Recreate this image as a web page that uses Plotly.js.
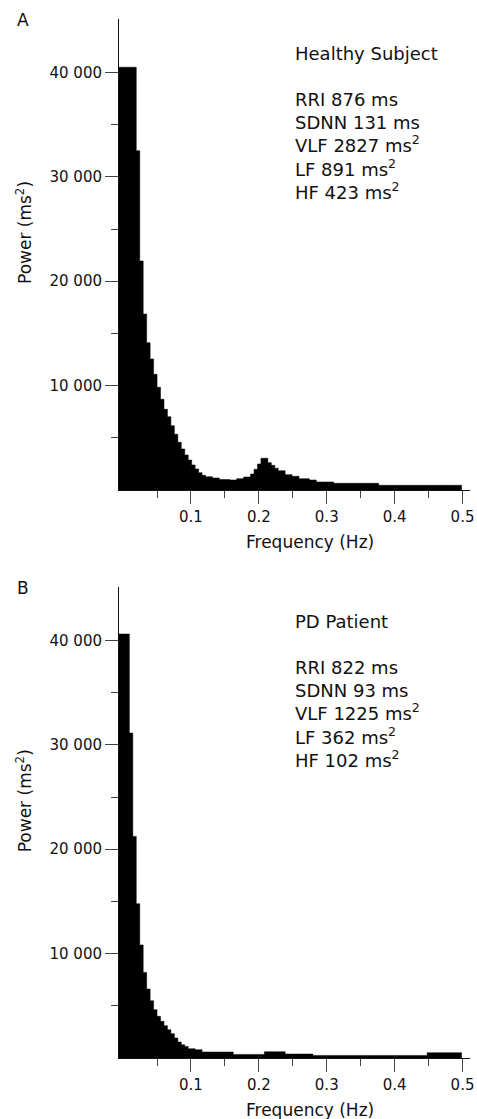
<!DOCTYPE html>
<html>
<head>
<meta charset="utf-8">
<script src="https://cdn.plot.ly/plotly-3.0.1.min.js"></script>
<style>html,body{margin:0;padding:0;background:#fff;}#chart{width:477px;height:1119px;}</style>
</head>
<body>
<div id="chart"></div>
<script>
// Frequency bin centres (Hz), bin width 0.0051 Hz
const freqHz = [-0.0035,0.0016,0.0067,0.0118,0.0169,0.0220,0.0271,0.0322,0.0373,0.0424,
0.0475,0.0526,0.0577,0.0628,0.0679,0.0730,0.0781,0.0832,0.0883,0.0934,
0.0985,0.1036,0.1087,0.1138,0.1189,0.1240,0.1291,0.1342,0.1393,0.1444,
0.1495,0.1546,0.1597,0.1648,0.1699,0.1750,0.1801,0.1852,0.1903,0.1954,
0.2005,0.2056,0.2107,0.2158,0.2209,0.2260,0.2311,0.2362,0.2413,0.2464,
0.2515,0.2566,0.2617,0.2668,0.2719,0.2770,0.2821,0.2872,0.2923,0.2974,
0.3025,0.3076,0.3127,0.3178,0.3229,0.3280,0.3331,0.3382,0.3433,0.3484,
0.3535,0.3586,0.3637,0.3688,0.3739,0.3790,0.3841,0.3892,0.3943,0.3994,
0.4045,0.4096,0.4147,0.4198,0.4249,0.4300,0.4351,0.4402,0.4453,0.4504,
0.4555,0.4606,0.4657,0.4708,0.4759,0.4810,0.4861,0.4912,0.4963];
const binWidthHz = 0.0051;

// Panel A: healthy subject power (ms^2)
const powerA = [40500,40500,40500,40500,40500,32500,21940,16860,14110,12550,
11080,9840,8690,7730,7020,6160,5340,4570,3930,3350,
2870,2400,2010,1660,1410,1270,1270,1150,1150,1000,
1000,1000,960,960,1085,1085,1245,1245,1530,1980,
2490,3040,3040,2620,2360,2080,1850,1850,1470,1470,
1310,1310,1085,1085,1085,960,960,770,770,770,
770,770,640,640,640,640,640,640,640,640,
640,640,640,640,640,450,450,450,450,450,
450,450,450,450,450,450,450,450,450,450,
450,450,450,450,450,450,450,450,450];

// Panel B: PD patient power (ms^2)
const powerB = [40620,40620,40620,31130,21230,14780,10830,8200,6610,5490,
4630,3990,3510,3100,2710,2330,1915,1530,1270,1110,
890,890,795,795,575,575,575,575,575,575,
575,575,575,345,345,345,345,345,345,345,
345,345,600,600,600,600,600,600,380,380,
380,380,380,380,380,380,250,250,250,250,
250,250,250,250,250,250,250,250,250,250,
250,250,250,250,250,250,250,250,250,250,
250,250,250,250,250,250,250,250,250,505,
505,505,505,505,505,505,505,505,505];

const panelLetters = ['A','B'];
const subjectLabels = ['Healthy Subject','PD Patient'];
const statsA = ['RRI 876 ms','SDNN 131 ms','VLF 2827 ms<sup>2</sup>','LF 891 ms<sup>2</sup>','HF 423 ms<sup>2</sup>'];
const statsB = ['RRI 822 ms','SDNN 93 ms','VLF 1225 ms<sup>2</sup>','LF 362 ms<sup>2</sup>','HF 102 ms<sup>2</sup>'];
const xTickVals = [0.1,0.2,0.3,0.4,0.5];
const xTickText = ['0.1','0.2','0.3','0.4','0.5'];
const xMinorVals = [0.05,0.15,0.25,0.35,0.45];
const yTickVals = [10000,20000,30000,40000];
const yTickText = ['10 000','20 000','30 000','40 000'];
const yMinorVals = [5000,15000,25000,35000];
const xTitle = 'Frequency (Hz)';
const yTitle = 'Power (ms<sup>2</sup>)';

// step outline built from bins
function stepTrace(vals, xa, ya){
  const xs = [], ys = [];
  for (let i = 0; i < freqHz.length; i++){ xs.push(freqHz[i] - binWidthHz/2); ys.push(vals[i]); }
  xs.push(freqHz[freqHz.length-1] + binWidthHz/2); ys.push(vals[vals.length-1]);
  return {x: xs, y: ys, type:'scatter', mode:'lines', line:{shape:'hv', color:'#000', width:0.5},
          fill:'tozeroy', fillcolor:'#000', xaxis:xa, yaxis:ya, hoverinfo:'skip', showlegend:false};
}

const W = 477, H = 1119, ML = 119, MR = 7, MT = 19, MB = 61;
const PW = W - ML - MR, PH = H - MT - MB;
const px = v => (v - ML) / PW;
const py = v => (H - MB - v) / PH;

const FONT = 'DejaVu Sans';
const XMIN = -0.006, XMAX = 0.511, YMAX = 45120;
const TICKC = '#444';

function xAxis(anchor){
  return {anchor: anchor, range:[XMIN, XMAX], showline:true, linecolor:'#111', linewidth:1,
    ticks:'outside', ticklen:13, tickwidth:1, tickcolor:TICKC,
    tickmode:'array', tickvals:xTickVals, ticktext:xTickText,
    minor:{tickmode:'array', tickvals:xMinorVals, ticks:'outside', ticklen:7, tickwidth:1, tickcolor:TICKC, showgrid:false},
    showgrid:false, zeroline:false, tickfont:{family:FONT, size:15, color:'#111'}, fixedrange:true};
}
function yAxis(anchor, domain){
  return {anchor: anchor, domain: domain, range:[0, YMAX], showline:true, linecolor:'#111', linewidth:1,
    ticks:'outside', ticklen:13, tickwidth:1, tickcolor:TICKC,
    tickmode:'array', tickvals:yTickVals, ticktext:yTickText,
    minor:{tickmode:'array', tickvals:yMinorVals, ticks:'outside', ticklen:7, tickwidth:1, tickcolor:TICKC, showgrid:false},
    showgrid:false, zeroline:false, tickfont:{family:FONT, size:15, color:'#111'}, fixedrange:true};
}

// unlabeled corner ticks at the axes' origin
const shapes = [];
[['x','y'],['x2','y2']].forEach(([xa, ya]) => {
  shapes.push({type:'line', xref:xa, yref:ya, ysizemode:'pixel', yanchor:0, x0:XMIN, x1:XMIN, y0:0, y1:-13,
    line:{color:TICKC, width:1}});
  shapes.push({type:'line', xref:xa, yref:ya, xsizemode:'pixel', xanchor:XMIN, x0:0, x1:-13, y0:0, y1:0,
    line:{color:TICKC, width:1}});
});

const annotations = [];
function addText(text, xPix, yPix, opts){
  annotations.push(Object.assign({text:text, xref:'paper', yref:'paper', x:px(xPix), y:py(yPix),
    showarrow:false, xanchor:'left', yanchor:'middle', font:{family:FONT, size:18, color:'#111'}}, opts||{}));
}
const offB = 568.3;
[0,1].forEach(p => {
  const dy = p * offB;
  addText(panelLetters[p], 22.7, 20 + dy, {xanchor:'center', font:{family:FONT, size:17, color:'#111'}});
  addText(xTitle, 309.5, 541.7 + dy, {xanchor:'center', font:{family:FONT, size:17, color:'#111'}});
  addText(yTitle, 24, 233 + dy, {xanchor:'center', textangle:-90, font:{family:FONT, size:17, color:'#111'}});
  const stats = p === 0 ? statsA : statsB;
  const baseTop = p === 0 ? 61 : 629;
  addText(subjectLabels[p], 293, baseTop + 5, {yanchor:'bottom'});
  stats.forEach((s, i) => {
    const base = (p === 0 ? 107 : 675) + i * 23.2;
    addText(s, 293, base + 5, {yanchor:'bottom'});
  });
});

const data = [stepTrace(powerA, 'x', 'y'), stepTrace(powerB, 'x2', 'y2')];
const layout = {
  width: W, height: H, margin:{l:ML, r:MR, t:MT, b:MB, pad:0},
  paper_bgcolor:'#fff', plot_bgcolor:'#fff', showlegend:false,
  font:{family:FONT, color:'#111'},
  xaxis: xAxis('y'), yaxis: yAxis('x', [0.5467, 1]),
  xaxis2: xAxis('y2'), yaxis2: yAxis('x2', [0, 0.4533]),
  shapes: shapes,
  annotations: annotations
};
Plotly.newPlot('chart', data, layout, {staticPlot:true, displayModeBar:false});
</script>
</body>
</html>
